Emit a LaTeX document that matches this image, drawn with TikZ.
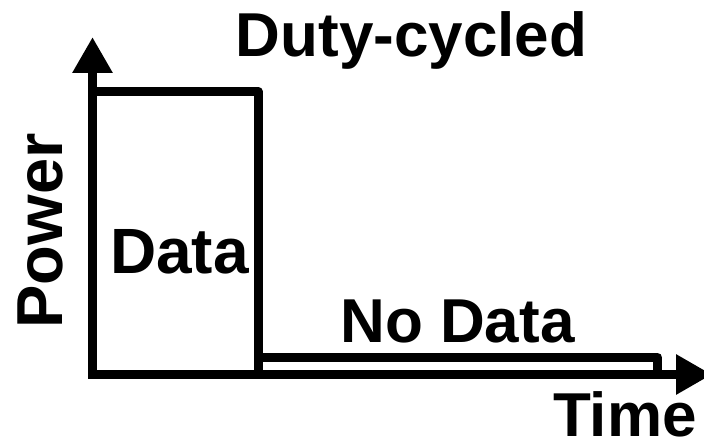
\documentclass[tikz,border=0pt]{standalone}
\usepackage{fontspec}
\setmainfont{Liberation Sans}
\usetikzlibrary{arrows.meta}
\begin{document}
\begin{tikzpicture}[x=1pt,y=-1pt,
  trace/.style={line width=9pt,line join=round,line cap=butt},
  axis/.style={trace,-{Triangle[length=36pt,width=38pt]}},
  label/.style={inner sep=0pt,anchor=base,font=\bfseries\fontsize{62}{62}\selectfont}]
  \useasboundingbox (0,0) rectangle (704,444);
  % axes
  \coordinate (origin) at (88,374.5);
  \coordinate (ytip) at (92.5,37);
  \coordinate (xtip) at (712,374.5);
  \draw[axis] (92.5,378) -- (ytip);
  \draw[axis] (origin) -- (xtip);
  % active (data) pulse and idle level
  \draw[trace] (92.5,374.5) -- (92.5,91.5) -- (258,91.5) -- (258,374.5);
  \draw[trace] (258,357.5) -- (657.5,357.5) -- (657.5,374.5);
  % labels
  \node[label] (title) at (411.5,57) {Duty-cycled};
  \node[label,font=\bfseries\fontsize{64}{64}\selectfont] (data) at (179.5,273) {Data};
  \node[label] (nodata) at (457.5,342) {No Data};
  \node[label] (time) at (625,436) {Time};
  \node[label,rotate=90,font=\bfseries\fontsize{65}{65}\selectfont] (power) at (62,231) {Power};
\end{tikzpicture}
\end{document}
